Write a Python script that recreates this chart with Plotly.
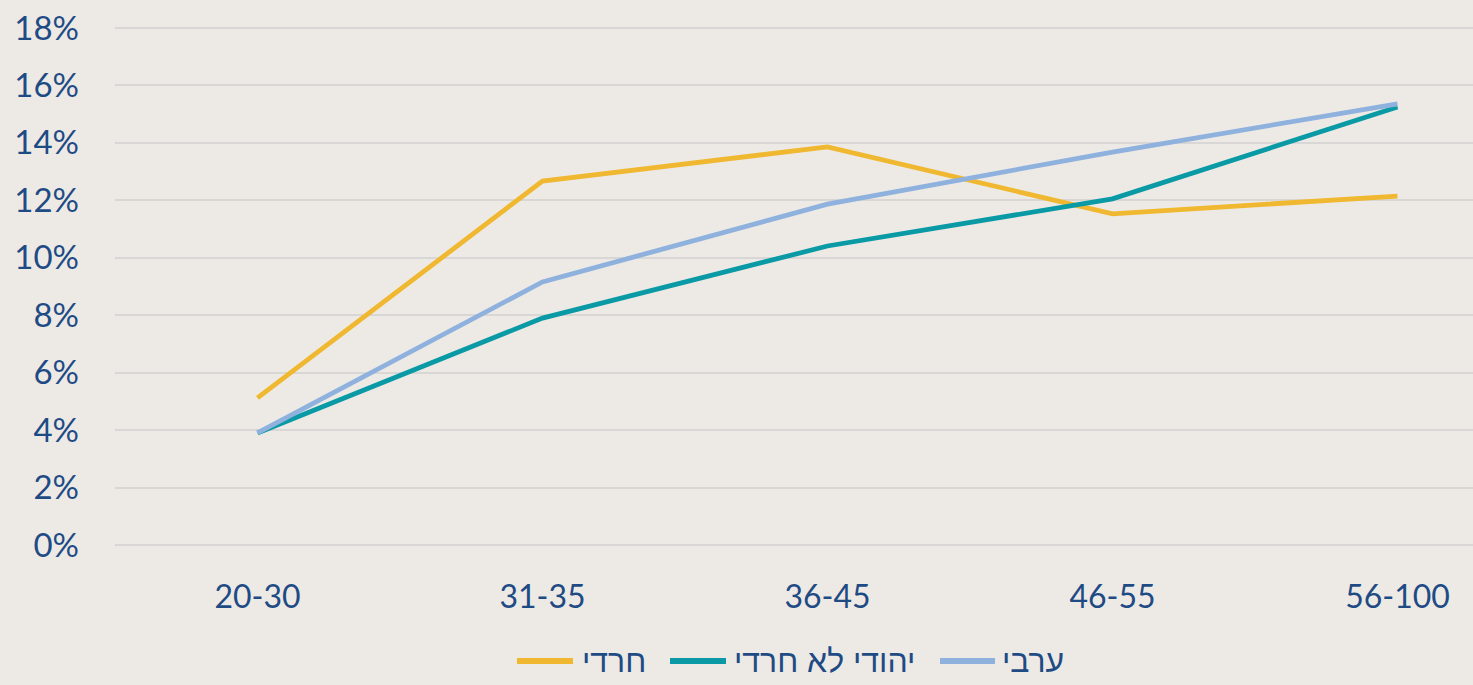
import plotly.graph_objects as go

categories = ["20-30", "31-35", "36-45", "46-55", "56-100"]
haredi = [5.12, 12.67, 13.86, 11.53, 12.15]
jewish_non_haredi = [3.90, 7.90, 10.41, 12.05, 15.25]
arab = [3.90, 9.16, 11.87, 13.68, 15.36]
y_ticks = [0, 2, 4, 6, 8, 10, 12, 14, 16, 18]
y_tick_labels = [f"{v}%" for v in y_ticks]

series_names = ["חרדי", "יהודי לא חרדי", "ערבי"]
series_values = [haredi, jewish_non_haredi, arab]
series_colors = ["#F0B830", "#0A9AA5", "#8FB1DD"]

text_color = "#1F4B85"
font_family = "Lato, 'Liberation Sans', 'DejaVu Sans', sans-serif"
bg = "#EDEAE6"
grid = "#D9D7D5"

W, H = 1473, 685
L, R, T, B = 115, 0, 27, 139
plot_w = W - L - R
plot_h = H - T - B

fig = go.Figure()
for name, vals, color in zip(series_names, series_values, series_colors):
    fig.add_trace(go.Scatter(
        x=list(range(len(categories))), y=vals, name=name, mode="lines",
        line=dict(color=color, width=4.8), showlegend=False,
    ))

# custom legend (symbol lines + labels) placed in pixel positions below the plot
legend_y = (T + plot_h - 661) / plot_h
legend_sym = [(517, 573), (670, 726), (940, 995)]
legend_text_x = [580, 732, 1000]
shapes = []
annotations = []
for (x0, x1), tx, name, color in zip(legend_sym, legend_text_x, series_names, series_colors):
    shapes.append(dict(
        type="line", xref="paper", yref="paper",
        x0=(x0 - L) / plot_w, x1=(x1 - L) / plot_w, y0=legend_y, y1=legend_y,
        line=dict(color=color, width=6),
    ))
    annotations.append(dict(
        xref="paper", yref="paper", x=(tx - L) / plot_w, y=legend_y,
        xanchor="left", yanchor="middle", text=name, showarrow=False,
        font=dict(size=32, color=text_color, family="'Liberation Sans', 'DejaVu Sans', sans-serif"),
    ))

fig.update_layout(
    width=W, height=H,
    margin=dict(l=L, r=R, t=T, b=B),
    paper_bgcolor=bg,
    plot_bgcolor=bg,
    font=dict(family=font_family, size=32, color=text_color),
    showlegend=False,
    shapes=shapes,
    annotations=annotations,
    xaxis=dict(
        range=[-0.5, 4.265], tickmode="array",
        tickvals=list(range(len(categories))), ticktext=categories,
        showgrid=False, zeroline=False, showline=False, ticks="",
        ticklabelstandoff=29, fixedrange=True,
    ),
    yaxis=dict(
        range=[-0.035, 18.035], tickmode="array", tickvals=y_ticks, ticktext=y_tick_labels,
        showgrid=True, gridcolor=grid, gridwidth=1.5,
        zeroline=True, zerolinecolor=grid, zerolinewidth=1.5,
        showline=False, ticks="", ticklabelstandoff=35,
        tickfont=dict(size=33), fixedrange=True,
    ),
)

fig.write_html(
    "out.html",
    config={"displayModeBar": False},
    post_script="document.body.style.margin='0';document.body.style.overflow='hidden';",
)
